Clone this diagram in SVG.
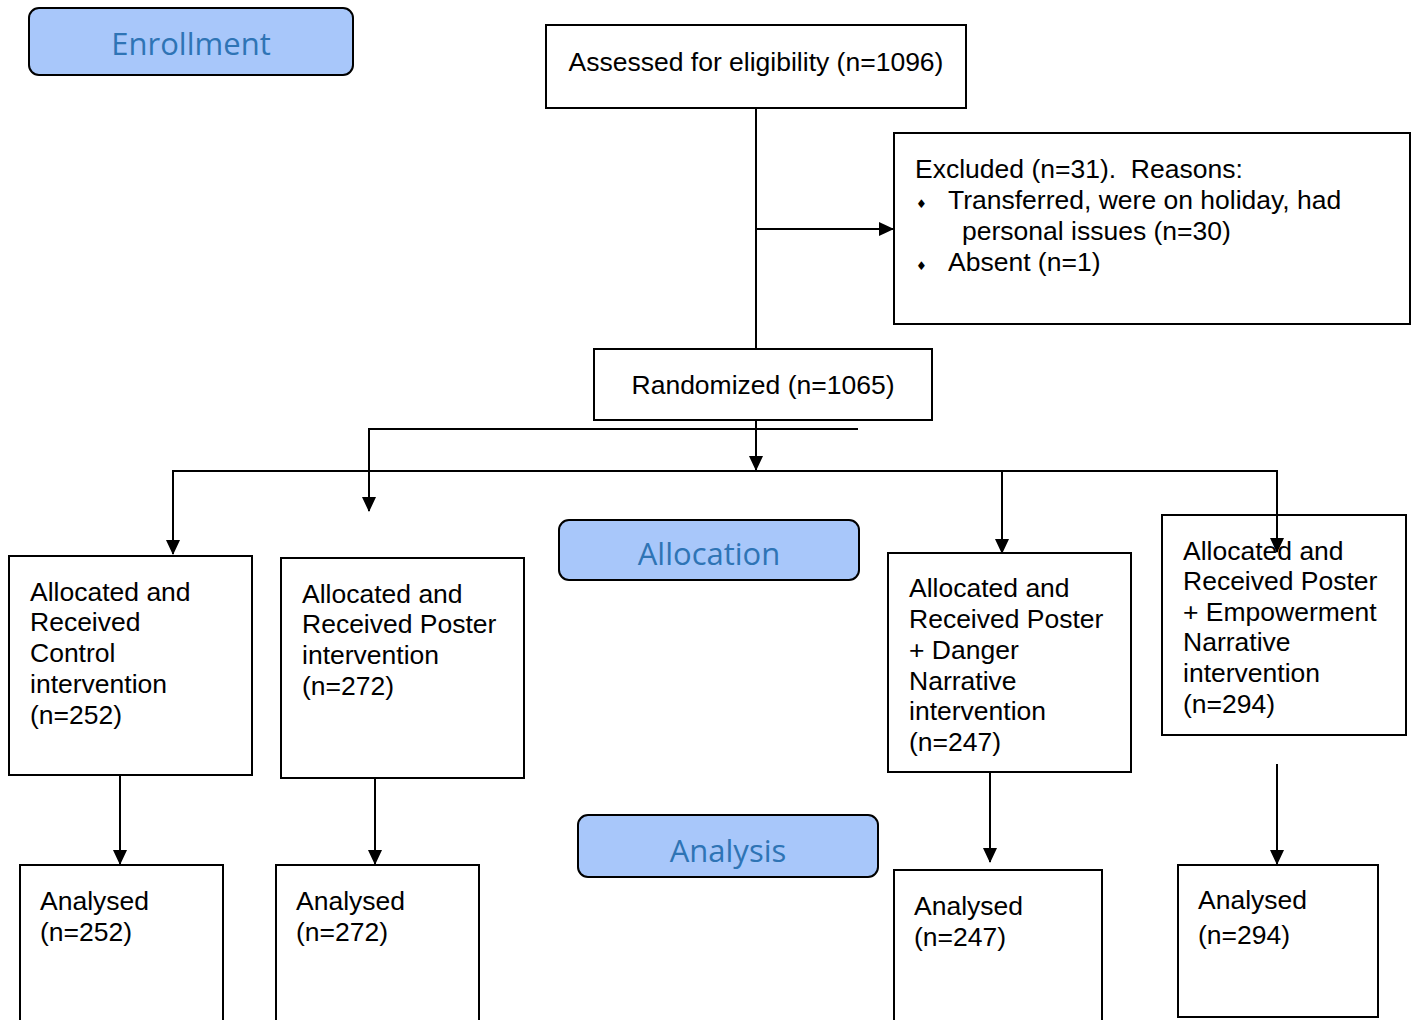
<svg xmlns="http://www.w3.org/2000/svg" width="1414" height="1020" viewBox="0 0 1414 1020">
<defs>
<marker id="ah" markerWidth="15" markerHeight="15" refX="14" refY="7.5" orient="auto" markerUnits="userSpaceOnUse">
<path d="M0,0.5 L15,7.5 L0,14.5 Z" fill="#000"/>
</marker>
<style>
.box{fill:#fff;stroke:#000;stroke-width:2}
.stage{fill:#a8c7fa;stroke:#000;stroke-width:2}
.t{font-family:"Liberation Sans",Arial,sans-serif;font-size:26.5px;fill:#000;white-space:pre}
.b{font-family:"DejaVu Sans",sans-serif;font-size:12px;fill:#000}
.st{font-family:"Open Sans","Noto Sans",sans-serif;font-size:31px;fill:#2e74b5;text-anchor:middle}
.c{fill:none;stroke:#000;stroke-width:2}
</style>
</defs>
<rect width="1414" height="1020" fill="#fff"/>
<g id="enrollment">
<rect class="stage" x="29" y="8" width="324" height="67" rx="10"/>
<text class="st" x="191" y="55">Enrollment</text>
</g>
<g id="assessed">
<rect class="box" x="546" y="25" width="420" height="83"/>
<text class="t" x="756" y="71" text-anchor="middle">Assessed for eligibility (n=1096)</text>
</g>
<g id="excluded">
<rect class="box" x="894" y="133" width="516" height="191"/>
<text class="t" x="915" y="178">Excluded (n=31).  Reasons:</text>
<text class="b" x="916" y="208">♦</text>
<text class="t" x="948" y="209">Transferred, were on holiday, had</text>
<text class="t" x="962" y="240">personal issues (n=30)</text>
<text class="b" x="916" y="270">♦</text>
<text class="t" x="948" y="271">Absent (n=1)</text>
</g>
<g id="randomized">
<rect class="box" x="594" y="349" width="338" height="71"/>
<text class="t" x="763" y="394" text-anchor="middle">Randomized (n=1065)</text>
</g>
<g id="allocation">
<rect class="stage" x="559" y="520" width="300" height="60" rx="10"/>
<text class="st" x="709" y="565">Allocation</text>
</g>
<g id="control">
<rect class="box" x="9" y="556" width="243" height="219"/>
<text class="t" x="30" y="601">Allocated and</text>
<text class="t" x="30" y="631">Received</text>
<text class="t" x="30" y="662">Control</text>
<text class="t" x="30" y="693">intervention</text>
<text class="t" x="30" y="724">(n=252)</text>
</g>
<g id="poster">
<rect class="box" x="281" y="558" width="243" height="220"/>
<text class="t" x="302" y="603">Allocated and</text>
<text class="t" x="302" y="633">Received Poster</text>
<text class="t" x="302" y="664">intervention</text>
<text class="t" x="302" y="695">(n=272)</text>
</g>
<g id="danger">
<rect class="box" x="888" y="553" width="243" height="219"/>
<text class="t" x="909" y="597">Allocated and</text>
<text class="t" x="909" y="628">Received Poster</text>
<text class="t" x="909" y="659">+ Danger</text>
<text class="t" x="909" y="690">Narrative</text>
<text class="t" x="909" y="720">intervention</text>
<text class="t" x="909" y="751">(n=247)</text>
</g>
<g id="empowerment">
<rect class="box" x="1162" y="515" width="244" height="220"/>
<text class="t" x="1183" y="560">Allocated and</text>
<text class="t" x="1183" y="590">Received Poster</text>
<text class="t" x="1183" y="621">+ Empowerment</text>
<text class="t" x="1183" y="651">Narrative</text>
<text class="t" x="1183" y="682">intervention</text>
<text class="t" x="1183" y="713">(n=294)</text>
</g>
<g id="analysis">
<rect class="stage" x="578" y="815" width="300" height="62" rx="10"/>
<text class="st" x="728" y="862">Analysis</text>
</g>
<g id="analysed1">
<rect class="box" x="20" y="865" width="203" height="170"/>
<text class="t" x="40" y="910">Analysed</text>
<text class="t" x="40" y="941">(n=252)</text>
</g>
<g id="analysed2">
<rect class="box" x="276" y="865" width="203" height="170"/>
<text class="t" x="296" y="910">Analysed</text>
<text class="t" x="296" y="941">(n=272)</text>
</g>
<g id="analysed3">
<rect class="box" x="894" y="870" width="208" height="170"/>
<text class="t" x="914" y="915">Analysed</text>
<text class="t" x="914" y="946">(n=247)</text>
</g>
<g id="analysed4">
<rect class="box" x="1178" y="865" width="200" height="152"/>
<text class="t" x="1198" y="909">Analysed</text>
<text class="t" x="1198" y="944">(n=294)</text>
</g>
<g id="connectors">
<line class="c" x1="756" y1="109" x2="756" y2="348"/>
<line class="c" x1="756" y1="229" x2="893" y2="229" marker-end="url(#ah)"/>
<line class="c" x1="756" y1="421" x2="756" y2="470" marker-end="url(#ah)"/>
<line class="c" x1="369" y1="429" x2="858" y2="429"/>
<line class="c" x1="369" y1="428" x2="369" y2="511" marker-end="url(#ah)"/>
<line class="c" x1="172" y1="471" x2="1278" y2="471"/>
<line class="c" x1="173" y1="470" x2="173" y2="554" marker-end="url(#ah)"/>
<line class="c" x1="1002" y1="470" x2="1002" y2="553" marker-end="url(#ah)"/>
<line class="c" x1="1277" y1="470" x2="1277" y2="552" marker-end="url(#ah)"/>
<line class="c" x1="120" y1="776" x2="120" y2="864" marker-end="url(#ah)"/>
<line class="c" x1="375" y1="779" x2="375" y2="864" marker-end="url(#ah)"/>
<line class="c" x1="990" y1="773" x2="990" y2="862" marker-end="url(#ah)"/>
<line class="c" x1="1277" y1="764" x2="1277" y2="864" marker-end="url(#ah)"/>
</g>
</svg>
